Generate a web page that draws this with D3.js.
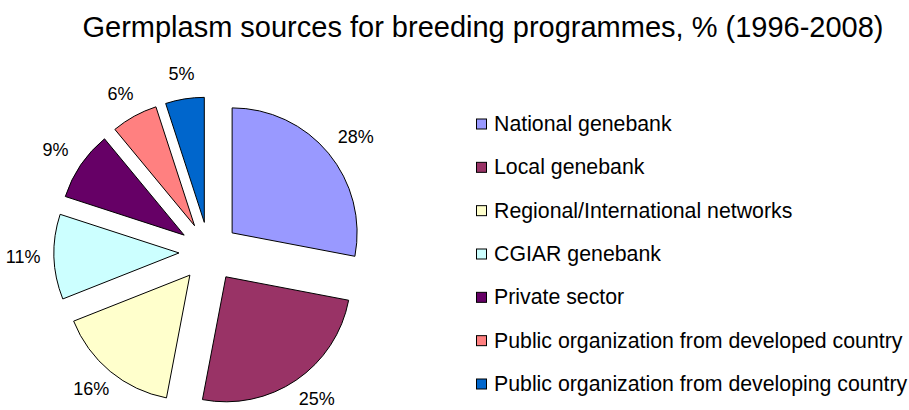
<!DOCTYPE html>
<html>
<head>
<meta charset="utf-8">
<script src="https://cdn.jsdelivr.net/npm/d3@7"></script>
<style>
  html, body { margin: 0; padding: 0; background: #fff; }
  svg { display: block; font-family: "Liberation Sans", Arial, Helvetica, sans-serif; }
</style>
</head>
<body>
<svg id="chart" width="909" height="410"></svg>
<script>
// Germplasm sources, share of breeding programmes (%)
const categories = [
  "National genebank",
  "Local genebank",
  "Regional/International networks",
  "CGIAR genebank",
  "Private sector",
  "Public organization from developed country",
  "Public organization from developing country"
];
const values = [28, 25, 16, 11, 9, 6, 5];
const colors = ["#9999FF", "#993366", "#FFFFCC", "#CCFFFF", "#660066", "#FF8080", "#0066CC"];
const titleText = "Germplasm sources for breeding programmes, % (1996-2008)";

const svg = d3.select("#chart");

svg.append("text")
  .attr("x", 483)
  .attr("y", 37)
  .attr("text-anchor", "middle")
  .attr("font-size", 29)
  .attr("fill", "#000")
  .text(titleText);

// Exploded pie, slices pushed out along their bisectors
const cx = 209, cy = 252, radius = 125, explode = 30;
// percentage labels sit on a slightly flattened ring outside the slices
const lx = 211, ly = 251, labelRx = 188, labelRy = 179;

const pie = d3.pie().sort(null).value(d => d.value);
const arcs = pie(categories.map((c, i) => ({ name: c, value: values[i], color: colors[i] })));
const arc = d3.arc().innerRadius(0).outerRadius(radius);
const mid = d => (d.startAngle + d.endAngle) / 2;

const g = svg.append("g").attr("transform", `translate(${cx},${cy})`);

g.selectAll("path.slice")
  .data(arcs)
  .join("path")
  .attr("class", "slice")
  .attr("d", arc)
  .attr("transform", d => `translate(${explode * Math.sin(mid(d))},${-explode * Math.cos(mid(d))})`)
  .attr("fill", d => d.data.color)
  .attr("stroke", "#000")
  .attr("stroke-width", 1);

svg.append("g")
  .attr("transform", `translate(${lx},${ly})`)
  .selectAll("text.pct")
  .data(arcs)
  .join("text")
  .attr("class", "pct")
  .attr("x", d => labelRx * Math.sin(mid(d)))
  .attr("y", d => -labelRy * Math.cos(mid(d)))
  .attr("text-anchor", "middle")
  .attr("dominant-baseline", "central")
  .attr("font-size", 18)
  .attr("fill", "#000")
  .text(d => d.data.value + "%");

// Legend
const legendY = d3.scalePoint().domain(categories).range([124, 384]);
const items = svg.append("g")
  .selectAll("g")
  .data(categories)
  .join("g")
  .attr("transform", d => `translate(476,${legendY(d)})`);

items.append("rect")
  .attr("x", 0.5)
  .attr("y", -5)
  .attr("width", 10)
  .attr("height", 10)
  .attr("fill", (d, i) => colors[i])
  .attr("stroke", "#000")
  .attr("stroke-width", 1);

items.append("text")
  .attr("x", 18)
  .attr("y", 0)
  .attr("dominant-baseline", "central")
  .attr("font-size", 21.3)
  .attr("fill", "#000")
  .text(d => d);
</script>
</body>
</html>
